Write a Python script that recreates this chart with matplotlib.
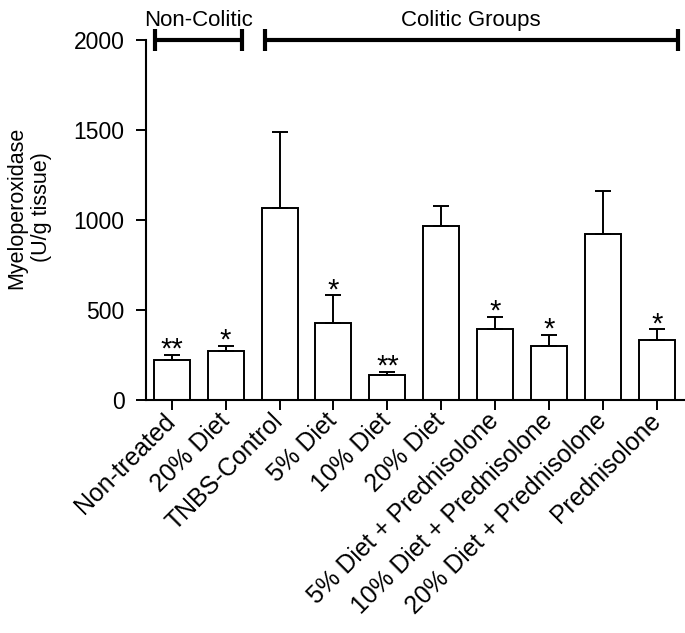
import numpy as np
import matplotlib
matplotlib.use("Agg")
import matplotlib.pyplot as plt

plt.rcParams['font.family'] = ['Liberation Sans', 'DejaVu Sans']

groups = ["Non-treated", "20% Diet", "TNBS-Control", "5% Diet", "10% Diet",
          "20% Diet", "5% Diet + Prednisolone", "10% Diet + Prednisolone",
          "20% Diet + Prednisolone", "Prednisolone"]
mpo = [221, 270, 1065, 430, 138, 966, 392, 300, 925, 331]
sem = [29, 31, 425, 151, 16, 113, 71, 62, 235, 61]
stars = ["**", "*", "", "*", "**", "", "*", "*", "", "*"]

brackets = [("Non-Colitic", -0.3, 1.3), ("Colitic Groups", 1.73, 9.38)]

fig = plt.figure(figsize=(6.85, 6.33), dpi=100)
ax = fig.add_axes([0.2131, 0.368, 0.7854, 0.5688])

x = np.arange(len(groups))
ax.bar(x, mpo, width=0.667, color='white', edgecolor='black', linewidth=1.4,
       yerr=[np.zeros(len(sem)), sem], capsize=6,
       error_kw=dict(elinewidth=1.4, capthick=1.4, ecolor='black'))

for xi, m, s, st in zip(x, mpo, sem, stars):
    if st:
        ax.text(xi, m + s - 15, st, ha='center', va='baseline', fontsize=21)

for name, x0, x1 in brackets:
    ax.plot([x0, x1], [2000, 2000], color='black', lw=3, clip_on=False,
            solid_capstyle='butt')
    for xe in (x0, x1):
        ax.plot([xe, xe], [1940, 2060], color='black', lw=3, clip_on=False,
                solid_capstyle='butt')
    ax.text((x0 + x1) / 2, 2078, name, ha='center', va='baseline', fontsize=16)

ax.set_xlim(-0.4766, 9.5)
ax.set_ylim(0, 2000)
ax.set_yticks([0, 500, 1000, 1500, 2000])
ax.set_xticks(x)
ax.set_xticklabels(groups, rotation=45, ha='right', va='center',
                   rotation_mode='anchor', fontsize=17.8)
ax.tick_params(axis='y', labelsize=16.5, length=7, width=1.4, pad=8.5)
ax.tick_params(axis='x', length=7, width=1.4, pad=5.5)
for side in ('top', 'right'):
    ax.spines[side].set_visible(False)
for side in ('left', 'bottom'):
    ax.spines[side].set_linewidth(1.5)
ax.set_ylabel("Myeloperoxidase\n(U/g tissue)", fontsize=15.5)
ax.yaxis.set_label_coords(-0.175, 0.535)

fig.savefig("out.png", dpi=100)
